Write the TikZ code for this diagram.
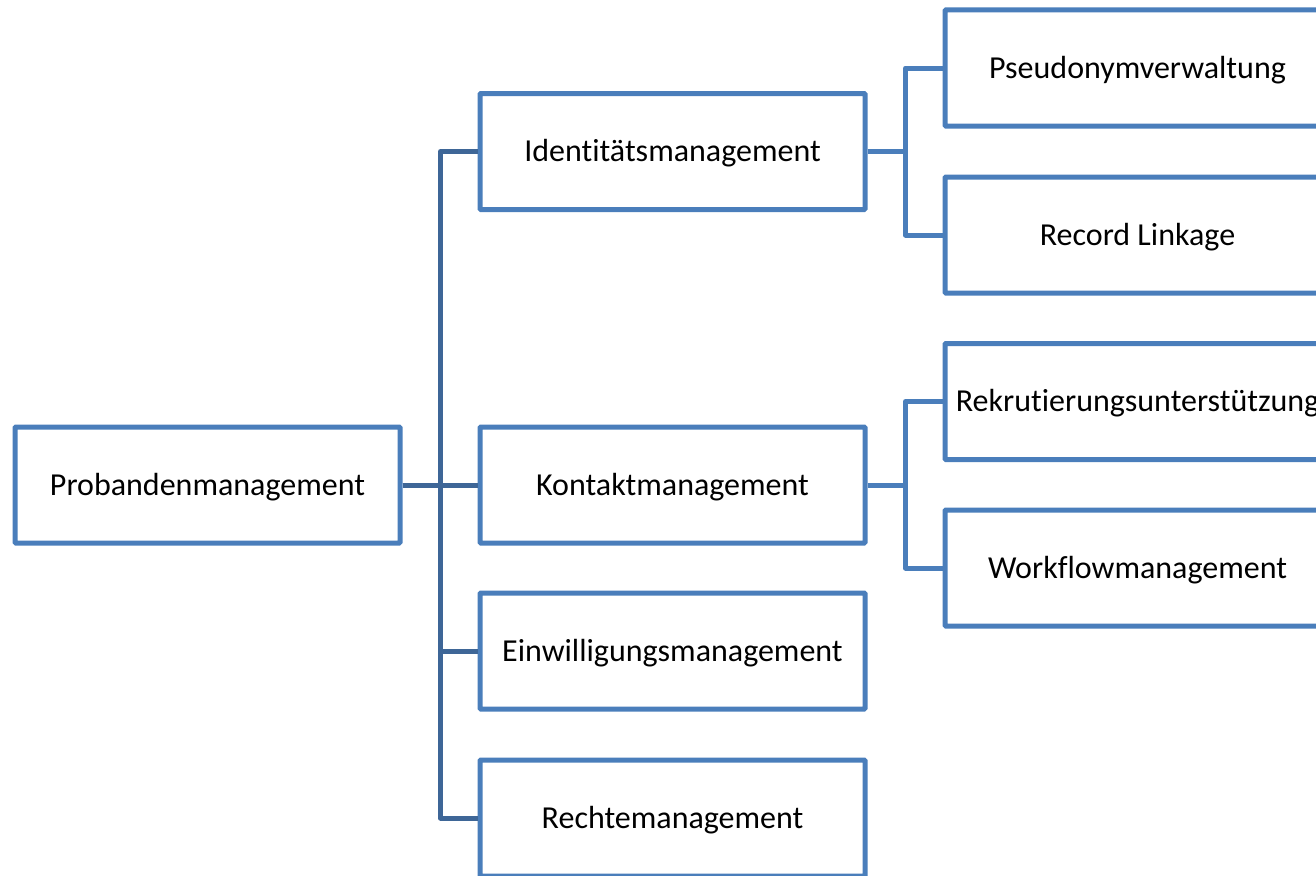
\documentclass[tikz,border=0pt]{standalone}
\usepackage{fontspec}
\setmainfont{Carlito}[Ligatures={NoCommon}]
\usepackage{xcolor}
\usepackage{tikz}
\usetikzlibrary{positioning,calc}

\definecolor{boxblue}{HTML}{4A7EBB}
\definecolor{linkblue}{HTML}{3E6697}

\begin{document}
\begin{tikzpicture}[x=1pt, y=-1pt,
    box/.style={draw=boxblue, line width=5pt, rounded corners=1pt, fill=white,
        minimum width=385pt, minimum height=116pt, inner sep=0pt},
    txt/.style={font=\fontsize{32}{38}\selectfont, inner sep=0pt, yshift=-2pt},
    conn/.style={draw=linkblue, line width=5pt, line join=round},
    subconn/.style={draw=boxblue, line width=5pt, line join=round}]
    \clip (0,0) rectangle (1316,875);
    \useasboundingbox (0,0) rectangle (1316,875);

    % Root
    \node [box, label={[txt]center:Probandenmanagement}] (prob) at (207.5,485) {};

    % Second level
    \node [box, label={[txt]center:Identitätsmanagement}] (ident) at (672.5,151.5) {};
    \node [box, label={[txt]center:Kontaktmanagement}] (kontakt) at (672.5,485) {};
    \node [box, label={[txt]center:Einwilligungsmanagement}] (einw) at (672.5,651) {};
    \node [box, label={[txt]center:Rechtemanagement}] (rechte) at (672.5,818) {};

    % Third level
    \node [box, label={[txt]center:Pseudonymverwaltung}] (pseudo) at (1137.5,68) {};
    \node [box, label={[txt]center:Record Linkage}] (record) at (1137.5,235) {};
    \node [box, label={[txt]center:Rekrutierungsunterstützung}] (rekrut) at (1137.5,401.5) {};
    \node [box, label={[txt]center:Workflowmanagement}] (workflow) at (1137.5,568) {};

    % Connections
    \draw [conn] (prob.east) -- ++(38,0) |- (ident.west);
    \draw [conn] (prob.east) -- (kontakt.west);
    \draw [conn] (prob.east) -- ++(38,0) |- (einw.west);
    \draw [conn] (prob.east) -- ++(38,0) |- (rechte.west);

    \draw [subconn] (ident.east) -- ++(38,0) |- (pseudo.west);
    \draw [subconn] (ident.east) -- ++(38,0) |- (record.west);
    \draw [subconn] (kontakt.east) -- ++(38,0) |- (rekrut.west);
    \draw [subconn] (kontakt.east) -- ++(38,0) |- (workflow.west);

\end{tikzpicture}
\end{document}
